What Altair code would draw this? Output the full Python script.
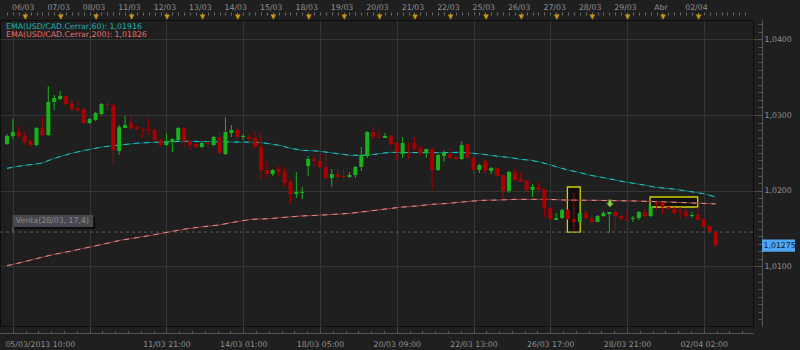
import json
import altair as alt
import pandas as pd

FONT = "DejaVu Sans"
FS = 7.8
LABEL_COL = "#8f8f8f"
GRID_COL = "#353535"
AXIS_COL = "#555555"
GREEN = "#19b319"
RED = "#ab0000"

# ---------------- data ----------------
opens = [1.02617, 1.02723, 1.02775, 1.02723, 1.02657, 1.02604, 1.02828, 1.02736, 1.03172, 1.03211,
         1.03251, 1.03159, 1.03092, 1.03079, 1.02894, 1.02934, 1.03013, 1.03145, 1.03132, 1.02524,
         1.02828, 1.02894, 1.02841, 1.02815, 1.02815, 1.02802, 1.02670, 1.02604, 1.02643, 1.02670,
         1.02828, 1.02657, 1.02617, 1.02577, 1.02630, 1.02604, 1.02709, 1.02485, 1.02762, 1.02802,
         1.02709, 1.02709, 1.02696, 1.02577, 1.02273, 1.02221, 1.02287, 1.02247, 1.02115, 1.01956,
         1.01970, 1.02326, 1.02419, 1.02392, 1.02313, 1.02168, 1.02221, 1.02194, 1.02181, 1.02207,
         1.02313, 1.02458, 1.02775, 1.02709, 1.02696, 1.02723, 1.02630, 1.02485, 1.02590, 1.02630,
         1.02564, 1.02498, 1.02551, 1.02273, 1.02458, 1.02485, 1.02445, 1.02419, 1.02617, 1.02432,
         1.02273, 1.02392, 1.02260, 1.02300, 1.02207, 1.01996, 1.02247, 1.02155, 1.02128, 1.02009,
         1.02049, 1.02022, 1.01771, 1.01613, 1.01639, 1.01745, 1.01626, 1.01587, 1.01705, 1.01639,
         1.01587, 1.01666, 1.01692, 1.01719, 1.01666, 1.01626, 1.01626, 1.01639, 1.01719, 1.01666,
         1.01838, 1.01851, 1.01785, 1.01758, 1.01732, 1.01719, 1.01666, 1.01679, 1.01626, 1.01534,
         1.01454]
highs = [1.02749, 1.02947, 1.02855, 1.02789, 1.02670, 1.02841, 1.02974, 1.03383, 1.03264, 1.03317,
         1.03264, 1.03198, 1.03198, 1.03092, 1.02960, 1.03040, 1.03159, 1.03172, 1.03145, 1.02868,
         1.02987, 1.02987, 1.02855, 1.02828, 1.02960, 1.02815, 1.02683, 1.02762, 1.02696, 1.02841,
         1.02841, 1.02670, 1.02630, 1.02643, 1.02657, 1.02723, 1.02789, 1.02974, 1.02868, 1.02855,
         1.02749, 1.02749, 1.02789, 1.02762, 1.02379, 1.02287, 1.02326, 1.02313, 1.02155, 1.02247,
         1.02049, 1.02458, 1.02485, 1.02485, 1.02485, 1.02287, 1.02287, 1.02287, 1.02247, 1.02326,
         1.02577, 1.02789, 1.02855, 1.02802, 1.02762, 1.02736, 1.02643, 1.02709, 1.02643, 1.02709,
         1.02590, 1.02551, 1.02564, 1.02485, 1.02538, 1.02564, 1.02458, 1.02657, 1.02630, 1.02472,
         1.02353, 1.02406, 1.02313, 1.02313, 1.02207, 1.02260, 1.02287, 1.02247, 1.02141, 1.02088,
         1.02115, 1.02022, 1.01785, 1.01705, 1.01758, 1.01758, 1.01970, 1.01798, 1.01745, 1.01679,
         1.01679, 1.01732, 1.01719, 1.01745, 1.01679, 1.01745, 1.01666, 1.01732, 1.01758, 1.01811,
         1.01851, 1.01851, 1.01811, 1.01785, 1.01785, 1.01758, 1.01719, 1.01785, 1.01639, 1.01547,
         1.01467]
lows = [1.02604, 1.02683, 1.02683, 1.02604, 1.02590, 1.02590, 1.02723, 1.02723, 1.03066, 1.03198,
        1.03132, 1.03040, 1.03040, 1.02881, 1.02881, 1.02921, 1.03000, 1.03053, 1.02353, 1.02472,
        1.02828, 1.02802, 1.02802, 1.02696, 1.02736, 1.02657, 1.02590, 1.02590, 1.02511, 1.02657,
        1.02577, 1.02538, 1.02564, 1.02564, 1.02577, 1.02590, 1.02472, 1.02472, 1.02709, 1.02683,
        1.02670, 1.02617, 1.02564, 1.02141, 1.02168, 1.02194, 1.02181, 1.02049, 1.01824, 1.01904,
        1.01890, 1.02194, 1.02326, 1.02300, 1.02141, 1.02049, 1.02128, 1.02141, 1.02168, 1.02168,
        1.02260, 1.02432, 1.02670, 1.02696, 1.02696, 1.02604, 1.02406, 1.02432, 1.02419, 1.02538,
        1.02458, 1.02432, 1.02022, 1.02260, 1.02379, 1.02419, 1.02406, 1.02406, 1.02419, 1.02221,
        1.02234, 1.02221, 1.02221, 1.02181, 1.01890, 1.01970, 1.02128, 1.02115, 1.01996, 1.01917,
        1.02009, 1.01653, 1.01613, 1.01613, 1.01626, 1.01613, 1.01481, 1.01587, 1.01613, 1.01573,
        1.01587, 1.01653, 1.01441, 1.01481, 1.01613, 1.01613, 1.01587, 1.01613, 1.01653, 1.01653,
        1.01745, 1.01692, 1.01758, 1.01692, 1.01626, 1.01639, 1.01639, 1.01613, 1.01507, 1.01454,
        1.01262]
closes = [1.02723, 1.02775, 1.02723, 1.02643, 1.02604, 1.02828, 1.02736, 1.03172, 1.03225, 1.03251,
          1.03145, 1.03079, 1.03066, 1.02894, 1.02947, 1.03026, 1.03145, 1.03132, 1.02538, 1.02841,
          1.02868, 1.02828, 1.02815, 1.02802, 1.02802, 1.02670, 1.02604, 1.02643, 1.02683, 1.02828,
          1.02657, 1.02604, 1.02577, 1.02630, 1.02617, 1.02709, 1.02498, 1.02775, 1.02802, 1.02709,
          1.02723, 1.02683, 1.02577, 1.02273, 1.02221, 1.02273, 1.02247, 1.02102, 1.01956, 1.01983,
          1.01983, 1.02419, 1.02392, 1.02313, 1.02168, 1.02221, 1.02181, 1.02181, 1.02207, 1.02313,
          1.02472, 1.02775, 1.02709, 1.02696, 1.02723, 1.02617, 1.02511, 1.02630, 1.02577, 1.02551,
          1.02498, 1.02551, 1.02273, 1.02472, 1.02498, 1.02432, 1.02419, 1.02604, 1.02432, 1.02273,
          1.02340, 1.02260, 1.02300, 1.02194, 1.01996, 1.02247, 1.02141, 1.02115, 1.02009, 1.02049,
          1.02009, 1.01771, 1.01626, 1.01639, 1.01745, 1.01626, 1.01587, 1.01705, 1.01639, 1.01587,
          1.01666, 1.01705, 1.01719, 1.01666, 1.01626, 1.01613, 1.01639, 1.01719, 1.01666, 1.01798,
          1.01824, 1.01785, 1.01758, 1.01705, 1.01719, 1.01666, 1.01679, 1.01613, 1.01520, 1.01454,
          1.01275]

ema60_idx = [0, 2.5, 5.8, 8, 10.9, 13.5, 16.4, 19.2, 21.9, 24.7, 30.2, 33, 42.6, 44.8, 46.4, 48.1,
             49.8, 52.6, 54.3, 56.5, 58.1, 61, 62.7, 64.8, 72, 77, 80.2, 82, 83.2, 85.4, 87, 88.7,
             90.4, 92.1, 93.7, 95.4, 97.1, 98.7, 101.6, 104.4, 107.1, 109.9, 112.8, 115.5, 118.3, 120]
ema60_val = [1.02296, 1.02330, 1.02362, 1.02428, 1.02494, 1.02538, 1.02581, 1.02604, 1.02626, 1.02639,
             1.02653, 1.02650, 1.02639, 1.02617, 1.02594, 1.02560, 1.02534, 1.02524, 1.02507, 1.02485,
             1.02468, 1.02468, 1.02485, 1.02507, 1.02502, 1.02507, 1.02485, 1.02468, 1.02454, 1.02436,
             1.02415, 1.02402, 1.02375, 1.02340, 1.02300, 1.02267, 1.02238, 1.02205, 1.02164, 1.02119,
             1.02085, 1.02045, 1.02022, 1.01992, 1.01956, 1.01916]

ema200_idx = [0, 2.5, 5.2, 8, 10.9, 13.5, 16.4, 19.2, 21.9, 24.7, 27.6, 30.2, 33, 35.9, 38.6, 41.4,
              44.3, 47, 49.8, 52.6, 55.3, 58.1, 61, 63.7, 66.5, 69.3, 72, 74.9, 77.7, 80.4, 83.2, 86,
              91.6, 94.4, 99.9, 106.6, 113.3, 120]
ema200_val = [1.01009, 1.01054, 1.01107, 1.01160, 1.01203, 1.01247, 1.01296, 1.01345, 1.01379, 1.01415,
              1.01458, 1.01494, 1.01523, 1.01547, 1.01587, 1.01622, 1.01630, 1.01649, 1.01666, 1.01675,
              1.01688, 1.01701, 1.01728, 1.01754, 1.01781, 1.01798, 1.01820, 1.01834, 1.01855, 1.01873,
              1.01877, 1.01886, 1.01886, 1.01877, 1.01873, 1.01864, 1.01847, 1.01826]

# time-axis labels (candle index -> label)
bottom_idx = [1, 14, 27, 40, 53, 66, 79, 92, 105, 118]
bottom_labels = ["05/03/2013 10:00", "", "11/03 21:00", "14/03 01:00", "18/03 05:00",
                 "20/03 09:00", "22/03 13:00", "26/03 17:00", "28/03 21:00", "02/04 02:00"]
day_idx = [3, 9, 15, 21, 27, 33, 39, 45, 51, 57, 63, 69, 75, 81, 87, 93, 99, 105, 111, 117]
day_labels = ["06/03", "07/03", "08/03", "11/03", "12/03", "13/03", "14/03", "15/03", "18/03",
              "19/03", "20/03", "21/03", "22/03", "25/03", "26/03", "27/03", "28/03", "29/03",
              "Abr", "02/04"]
price_ticks = [1.01, 1.02, 1.03, 1.04]

# annotations
box_x0 = [94.9, 108.9]
box_x1 = [97.07, 116.96]
box_p0 = [1.02049, 1.01917]
box_p1 = [1.01454, 1.01785]
venta_price = [1.01454]
venta_box = {"x0": [0.95], "x1": [14.6], "p0": [1.01679], "p1": [1.01520]}
venta_text = ["Venta(28/03, 17,4)"]
arrow_idx = [102.1]
arrow_price = [1.01831]
last_price = [1.01275]
last_label = ["1,01275"]
legend_60 = ["EMA(USD/CAD.Cerrar,60): 1,01916"]
legend_200 = ["EMA(USD/CAD.Cerrar,200): 1,01826"]

# ---------------- frames ----------------
candles = pd.DataFrame({"idx": list(range(len(opens))), "open": opens, "high": highs,
                        "low": lows, "close": closes})
candles["dir"] = ["up" if c > o else "down" for o, c in zip(opens, closes)]
ema60 = pd.DataFrame({"idx": ema60_idx, "v": ema60_val})
ema200 = pd.DataFrame({"idx": ema200_idx, "v": ema200_val})
boxes = pd.DataFrame({"x0": box_x0, "x1": box_x1, "p0": box_p0, "p1": box_p1})
vline = pd.DataFrame({"p": venta_price})
vbox = pd.DataFrame(venta_box)
vtext = pd.DataFrame({"tx": [1.5], "p": [1.01600], "t": venta_text})
vconn = pd.DataFrame({"idx": [1], "p0": [1.01520], "p1": venta_price})
arrow = pd.DataFrame({"idx": arrow_idx, "p": arrow_price})
tag = pd.DataFrame({"p": last_price, "t": last_label})
leg60 = pd.DataFrame({"t": legend_60})
leg200 = pd.DataFrame({"t": legend_200})

xs = alt.Scale(domain=[-0.334, 125.48], nice=False, zero=False)
ys = alt.Scale(domain=[1.00213, 1.04255], nice=False, zero=False)

common = dict(title=None, labelFont=FONT, labelFontSize=FS, labelColor=LABEL_COL)

def lookup_expr(vals, labels):
    return "%s[indexof(%s, datum.value)]" % (json.dumps(labels), json.dumps(vals))

first_test = "datum.value == %d" % bottom_idx[0]
axA = alt.Axis(orient="bottom", values=bottom_idx, labelExpr=lookup_expr(bottom_idx, bottom_labels),
               grid=True, gridColor=GRID_COL, domain=True, domainColor=AXIS_COL, offset=7,
               ticks=False, tickSize=0, labelPadding=7.5, labelFlush=False,
               labelAlign={"condition": {"test": first_test, "value": "left"}, "value": "center"},
               labelOffset={"condition": {"test": first_test, "value": -8}, "value": 0},
               labelOverlap=False, **common)
axB = alt.Axis(orient="bottom", values=bottom_idx, labels=False, domain=False, grid=False,
               ticks=True, tickSize=7, tickColor="#444444", offset=0, title=None)
axC = alt.Axis(orient="bottom", values=[round(1 + k * 13 / 6, 3) for k in range(58)], labels=False,
               domain=False, grid=False, ticks=True, tickSize=3, tickColor=AXIS_COL, offset=4, title=None)
axD = alt.Axis(orient="top", values=list(range(0, 126)), labels=False, domain=False, grid=False,
               ticks=True, tickSize=3, tickColor="#6a6a6a", offset=5, title=None)
axE = alt.Axis(orient="top", values=day_idx, labelExpr=lookup_expr(day_idx, day_labels), domain=False,
               grid=False, ticks=False, tickSize=0, labelPadding=0, offset=9, labelOffset=-2,
               labelFlush=False, labelOverlap=False, **common)
axF = alt.Axis(orient="top", values=day_idx, labelExpr="'\u25bc'", domain=False, grid=False, ticks=False,
               tickSize=0, labelPadding=0, offset=1, labelOverlap=False, labelFlush=False, title=None,
               labelFont=FONT, labelFontSize=7, labelColor="#c8960a")
axG = alt.Axis(orient="right", values=price_ticks,
               labelExpr="replace(format(datum.value, '.4f'), '.', ',')", grid=True, gridColor=GRID_COL,
               domain=True, domainColor=AXIS_COL, ticks=False, tickSize=0, labelPadding=2, offset=9,
               labelBaseline="middle", labelOverlap=False, labelFlush=False, **common)
axH = alt.Axis(orient="right", values=price_ticks, labels=False, domain=False, grid=False, ticks=True,
               tickSize=9, tickColor="#444444", offset=0, title=None)
axI = alt.Axis(orient="right", values=[round(1.003 + 0.001 * k, 3) for k in range(40)], labels=False,
               domain=False, grid=False, ticks=True, tickSize=4, tickColor=AXIS_COL, offset=5, title=None)

def X(f, axis=None):
    return alt.X(f, type="quantitative", scale=xs, axis=axis)

def Y(f, axis=None):
    return alt.Y(f, type="quantitative", scale=ys, axis=axis)

color = alt.Color("dir:N", scale=alt.Scale(domain=["up", "down"], range=[GREEN, RED]), legend=None)

layers = [
    alt.Chart(boxes).mark_rect(fill="#0f0f0f", stroke="#d2d200", strokeWidth=1.3).encode(
        x=X("x0", axA), x2="x1", y=Y("p0", axG), y2="p1"),
    alt.Chart(vline).mark_rule(color="#5c5c5c", strokeDash=[3, 3], strokeWidth=1).encode(
        y=Y("p", axH)),
    alt.Chart(vbox).mark_rect(color="#0c0c0c", xOffset=2, x2Offset=2, yOffset=2, y2Offset=2).encode(
        x=X("x0", axB), x2="x1", y=Y("p0", axI), y2="p1"),
    alt.Chart(vbox).mark_rect(color="#47474d").encode(x=X("x0"), x2="x1", y=Y("p0"), y2="p1"),
    alt.Chart(vtext).mark_text(align="left", baseline="middle", color="#8c8c8c", font=FONT,
                               fontSize=FS).encode(x=X("tx"), y=Y("p"), text="t:N"),
    alt.Chart(vconn).mark_rule(color="#666666").encode(x=X("idx"), y=Y("p0"), y2="p1"),
    alt.Chart(ema200).mark_line(color="#8a4242", strokeWidth=1).encode(x=X("idx", axC), y=Y("v")),
    alt.Chart(ema200).mark_line(color="#f08a86", strokeWidth=1, strokeDash=[5, 5]).encode(
        x=X("idx", axD), y=Y("v")),
    alt.Chart(ema60).mark_line(color="#137070", strokeWidth=1).encode(x=X("idx", axE), y=Y("v")),
    alt.Chart(ema60).mark_line(color="#22c4c8", strokeWidth=1, strokeDash=[5, 5]).encode(
        x=X("idx", axF), y=Y("v")),
    alt.Chart(candles).mark_rule(strokeWidth=1).encode(x=X("idx"), y=Y("low"), y2="high", color=color),
    alt.Chart(candles).mark_bar(size=4).encode(x=X("idx"), y=Y("open"), y2="close", color=color),
    alt.Chart(arrow).mark_point(
        shape="M-0.45,-1L0.45,-1L0.45,-0.1L1,-0.1L0,1L-1,-0.1L-0.45,-0.1Z", filled=True,
        fill="#8fd14f", stroke="#3a7a10", strokeWidth=0.8, size=55, opacity=1).encode(
        x=X("idx"), y=Y("p")),
    alt.Chart(leg60).mark_text(align="left", baseline="middle", color="#1db3b3", font=FONT,
                               fontSize=FS).encode(x=alt.value(6), y=alt.value(6.5), text="t:N"),
    alt.Chart(leg200).mark_text(align="left", baseline="middle", color="#e8706c", font=FONT,
                                fontSize=FS).encode(x=alt.value(6), y=alt.value(14.5), text="t:N"),
    alt.Chart(tag).mark_point(shape="M-1,-0.37L1,-0.37L1,0.37L-1,0.37Z", filled=True, fill="#4ea6f5",
                              strokeWidth=0, size=1089, opacity=1).encode(
        x=alt.value(778.5), y=Y("p")),
    alt.Chart(tag).mark_text(align="left", baseline="middle", color="#0b1a2a", font=FONT,
                             fontSize=FS).encode(x=alt.value(763.5), y=Y("p"), text="t:N"),
]

chart = alt.layer(*layers).resolve_axis(x="independent", y="independent").properties(
    width=753, height=306,
    padding={"left": 0, "top": 20, "right": 47, "bottom": 24},
    autosize=alt.AutoSizeParams(type="none"),
    background="#1f1f1f",
).configure_view(stroke="#0b0b0b", strokeWidth=1)

chart.save("out.html", embed_options={"renderer": "svg", "actions": False})
